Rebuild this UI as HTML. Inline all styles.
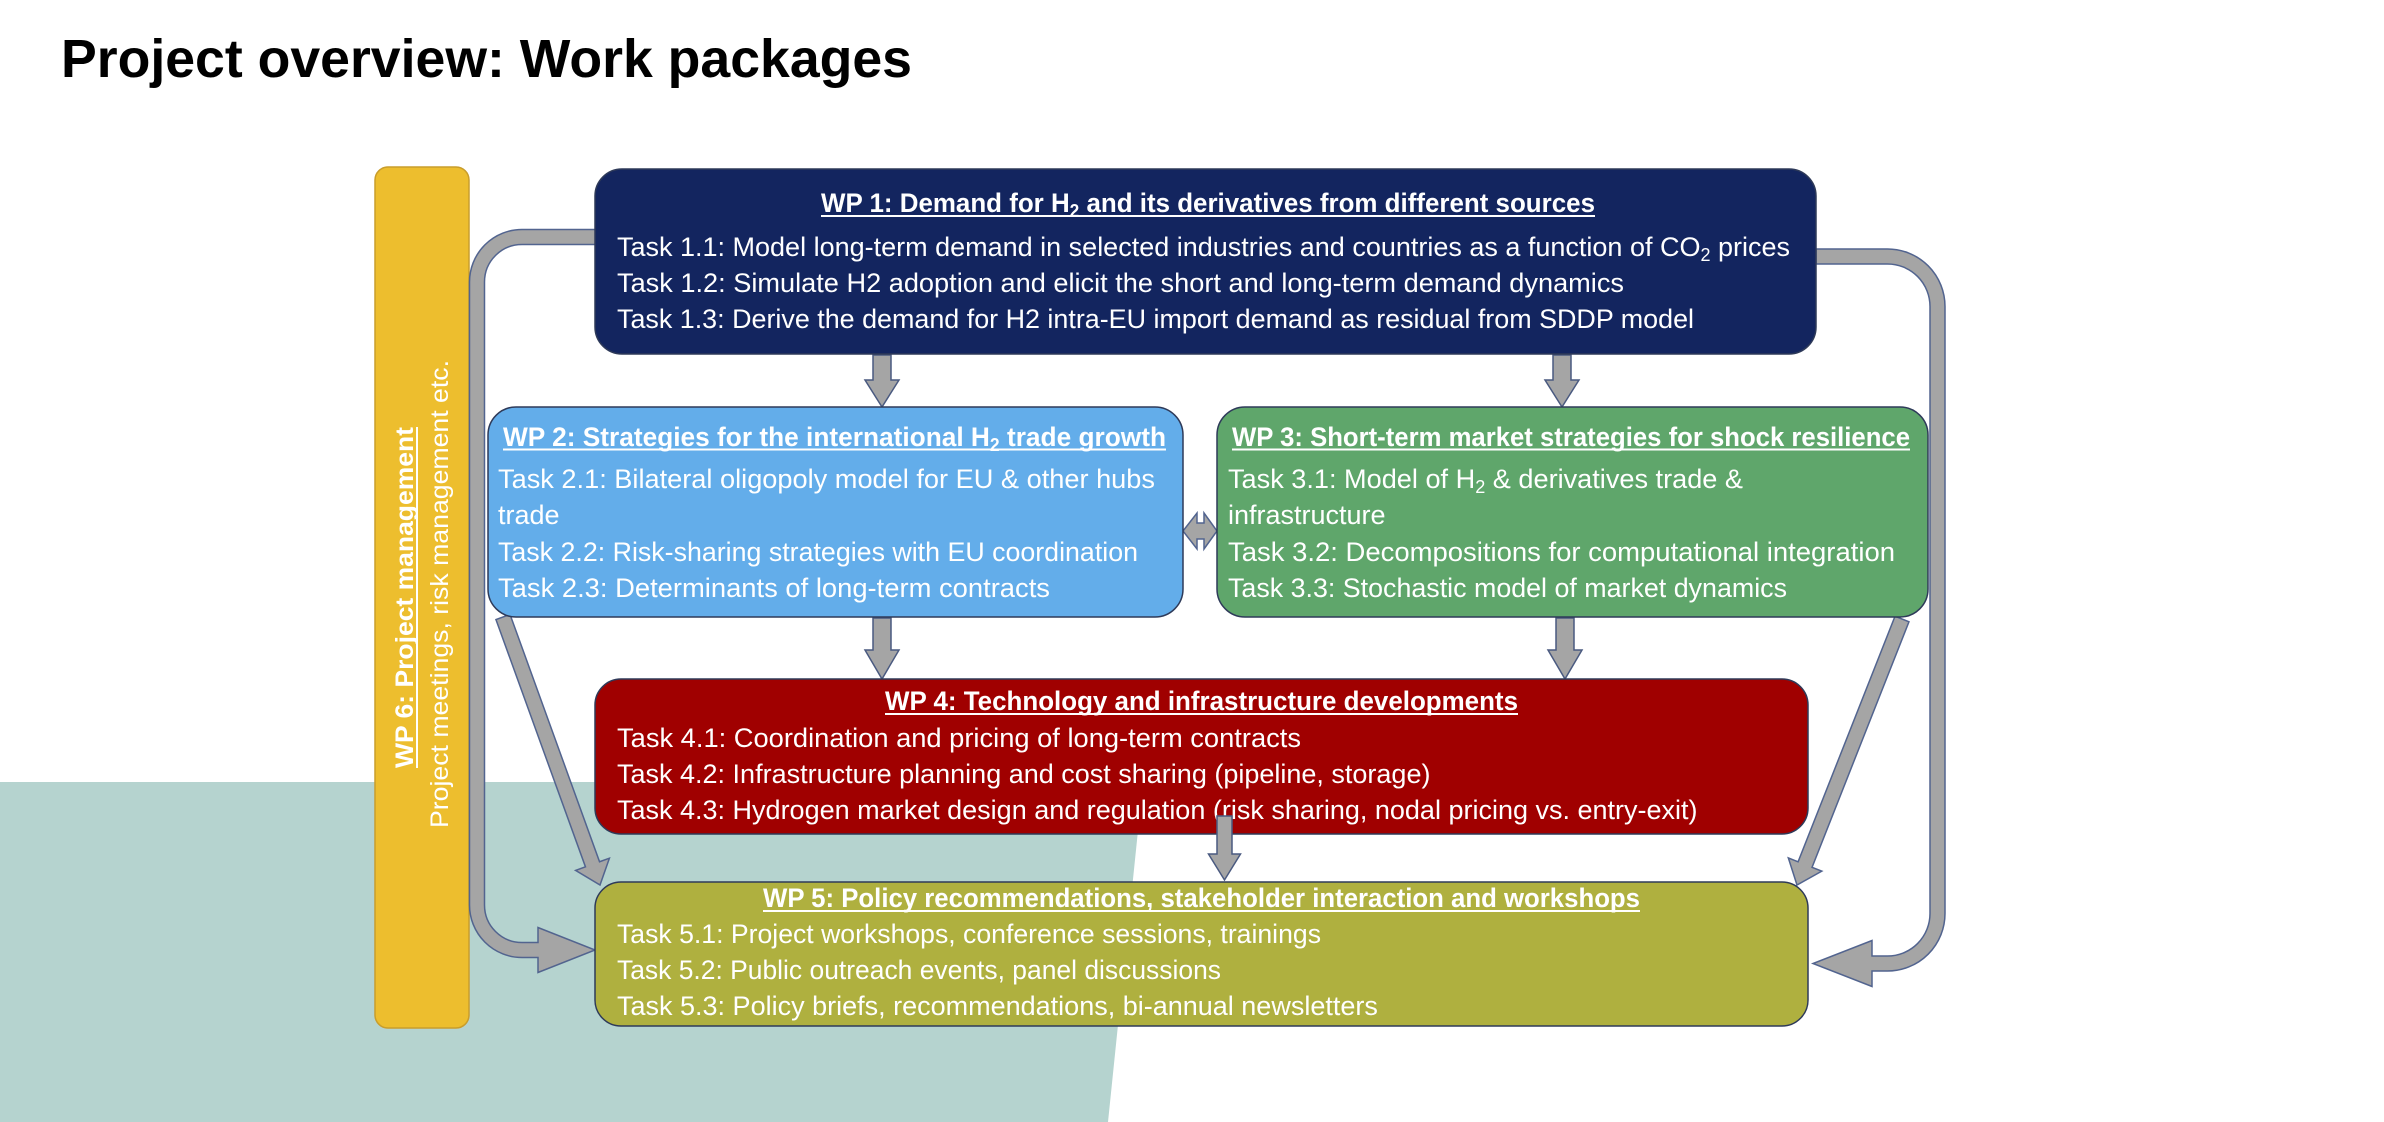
<!DOCTYPE html>
<html>
<head>
<meta charset="utf-8">
<style>
html,body{margin:0;padding:0;background:#fff;width:2384px;height:1122px;overflow:hidden}
svg{display:block}
text{font-family:"Liberation Sans",Arial,sans-serif;fill:#fff;font-size:27px}
.b{font-weight:bold}
.sub{font-size:18px}
</style>
</head>
<body>
<svg width="2384" height="1122" viewBox="0 0 2384 1122" xmlns="http://www.w3.org/2000/svg">
  <rect x="0" y="0" width="2384" height="1122" fill="#fff"/>
  <!-- teal background shape -->
  <polygon points="0,782 1143,782 1108,1122 0,1122" fill="#b5d3cf"/>

  <!-- Title -->
  <text x="61" y="77" class="b" style="fill:#000;font-size:54px" textLength="851" lengthAdjust="spacingAndGlyphs">Project overview: Work packages</text>

  <!-- Yellow WP6 bar -->
  <rect x="375" y="167" width="94" height="861" rx="13" ry="13" fill="#edbe2e" stroke="#c99d2b" stroke-width="1.5"/>
  <text transform="translate(413,768) rotate(-90)" class="b" style="font-size:25px" textLength="341" lengthAdjust="spacingAndGlyphs">WP 6: Project management</text>
  <rect x="416" y="427" width="2" height="341" fill="#fff"/>
  <text transform="translate(448,828) rotate(-90)" style="font-size:25px" textLength="468" lengthAdjust="spacingAndGlyphs">Project meetings, risk management etc.</text>

  <!-- Left curved connector WP1 -> WP5 -->
  <path d="M596,229.5 L522,229.5 A52.5,52.5 0 0 0 469.5,282 L469.5,905 A52.5,52.5 0 0 0 522,957.5 L538,957.5 L538,972.5 L595,950 L538,927.5 L538,942.5 L522,942.5 A37.5,37.5 0 0 1 484.5,905 L484.5,282 A37.5,37.5 0 0 1 522,244.5 L596,244.5 Z" fill="#a5a5a5" stroke="#52648f" stroke-width="1.5"/>

  <!-- Right curved connector WP1 -> WP5 -->
  <path d="M1816,249 L1887.5,249 A57.5,57.5 0 0 1 1945,306.5 L1945,913.5 A57.5,57.5 0 0 1 1887.5,971 L1872,971 L1872,986.5 L1813,963.5 L1872,940.5 L1872,956 L1887.5,956 A42.5,42.5 0 0 0 1930,913.5 L1930,306.5 A42.5,42.5 0 0 0 1887.5,264 L1816,264 Z" fill="#a5a5a5" stroke="#52648f" stroke-width="1.5"/>

  <!-- Diagonal arrows -->
  <polygon points="510.05,614.45 599.55,861.75 609.4,858.2 600,885 575.6,870.4 585.45,866.85 495.95,619.55" fill="#a5a5a5" stroke="#52648f" stroke-width="1.5"/>
  <polygon points="1908.98,621.75 1812.05,867.29 1821.81,871.15 1797,885 1788.33,857.93 1798.09,861.79 1895.02,616.25" fill="#a5a5a5" stroke="#52648f" stroke-width="1.5"/>

  <!-- Down arrows -->
  <polygon points="873,355 891,355 891,380 899,380 882,407 865,380 873,380" fill="#a5a5a5" stroke="#4a5a80" stroke-width="1.5"/>
  <polygon points="1553,355 1571,355 1571,380 1579,380 1562,407 1545,380 1553,380" fill="#a5a5a5" stroke="#4a5a80" stroke-width="1.5"/>
  <polygon points="873,618 891,618 891,650 899,650 882,679 865,650 873,650" fill="#a5a5a5" stroke="#4a5a80" stroke-width="1.5"/>
  <polygon points="1556,618 1574,618 1574,650 1582,650 1565,679 1548,650 1556,650" fill="#a5a5a5" stroke="#4a5a80" stroke-width="1.5"/>

  <!-- Double arrow WP2 <-> WP3 -->
  <polygon points="1183,531 1197,513 1197,523 1204,523 1204,513 1217,531 1204,549 1204,539 1197,539 1197,549" fill="#a5a5a5" stroke="#52648f" stroke-width="1.5"/>

  <!-- WP1 -->
  <rect x="595" y="169" width="1221" height="185" rx="27" ry="27" fill="#13255f" stroke="#2e3a59" stroke-width="1.5"/>
  <text x="821" y="212" class="b" textLength="774" lengthAdjust="spacingAndGlyphs">WP 1: Demand for H<tspan class="sub" dy="5">2</tspan><tspan dy="-5"> and its derivatives from different sources</tspan></text>
  <rect x="821" y="215" width="774" height="2" fill="#fff"/>
  <text x="617" y="256" textLength="1173" lengthAdjust="spacingAndGlyphs">Task 1.1: Model long-term demand in selected industries and countries as a function of CO<tspan class="sub" dy="5">2</tspan><tspan dy="-5"> prices</tspan></text>
  <text x="617" y="292" textLength="1007" lengthAdjust="spacingAndGlyphs">Task 1.2: Simulate H2 adoption and elicit the short and long-term demand dynamics</text>
  <text x="617" y="328" textLength="1077" lengthAdjust="spacingAndGlyphs">Task 1.3: Derive the demand for H2 intra-EU import demand as residual from SDDP model</text>

  <!-- WP2 -->
  <rect x="488" y="407" width="695" height="210" rx="28" ry="28" fill="#63adea" stroke="#2e3a59" stroke-width="1.5"/>
  <text x="503" y="446" class="b" textLength="663" lengthAdjust="spacingAndGlyphs">WP 2: Strategies for the international H<tspan class="sub" dy="5">2</tspan><tspan dy="-5"> trade growth</tspan></text>
  <rect x="503" y="448.5" width="663" height="2" fill="#fff"/>
  <text x="498" y="488" textLength="657" lengthAdjust="spacingAndGlyphs">Task 2.1: Bilateral oligopoly model for EU &amp; other hubs</text>
  <text x="498" y="524">trade</text>
  <text x="498" y="561" textLength="640" lengthAdjust="spacingAndGlyphs">Task 2.2: Risk-sharing strategies with EU coordination</text>
  <text x="498" y="597" textLength="552" lengthAdjust="spacingAndGlyphs">Task 2.3: Determinants of long-term contracts</text>

  <!-- WP3 -->
  <rect x="1217" y="407" width="711" height="210" rx="28" ry="28" fill="#5fa66b" stroke="#2e3a59" stroke-width="1.5"/>
  <text x="1232" y="446" class="b" textLength="678" lengthAdjust="spacingAndGlyphs">WP 3: Short-term market strategies for shock resilience</text>
  <rect x="1232" y="448.5" width="678" height="2" fill="#fff"/>
  <text x="1228" y="488" textLength="515" lengthAdjust="spacingAndGlyphs">Task 3.1: Model of H<tspan class="sub" dy="5">2</tspan><tspan dy="-5"> &amp; derivatives trade &amp;</tspan></text>
  <text x="1228" y="524">infrastructure</text>
  <text x="1228" y="561" textLength="667" lengthAdjust="spacingAndGlyphs">Task 3.2: Decompositions for computational integration</text>
  <text x="1228" y="597" textLength="559" lengthAdjust="spacingAndGlyphs">Task 3.3: Stochastic model of market dynamics</text>

  <!-- WP4 -->
  <rect x="595" y="679" width="1213" height="155" rx="26" ry="26" fill="#a00000" stroke="#2e3a59" stroke-width="1.5"/>
  <text x="885" y="710" class="b" textLength="633" lengthAdjust="spacingAndGlyphs">WP 4: Technology and infrastructure developments</text>
  <rect x="885" y="713" width="633" height="2" fill="#fff"/>
  <text x="617" y="747" textLength="684" lengthAdjust="spacingAndGlyphs">Task 4.1: Coordination and pricing of long-term contracts</text>
  <text x="617" y="783">Task 4.2: Infrastructure planning and cost sharing (pipeline, storage)</text>
  <text x="617" y="819">Task 4.3: Hydrogen market design and regulation (risk sharing, nodal pricing vs. entry-exit)</text>

  <!-- WP5 -->
  <rect x="595" y="882" width="1213" height="144" rx="26" ry="26" fill="#afb03f" stroke="#2e3a59" stroke-width="1.5"/>
  <text x="763" y="907" class="b" textLength="877" lengthAdjust="spacingAndGlyphs">WP 5: Policy recommendations, stakeholder interaction and workshops</text>
  <rect x="763" y="910" width="877" height="2" fill="#fff"/>
  <text x="617" y="943" textLength="704" lengthAdjust="spacingAndGlyphs">Task 5.1: Project workshops, conference sessions, trainings</text>
  <text x="617" y="979" textLength="604" lengthAdjust="spacingAndGlyphs">Task 5.2: Public outreach events, panel discussions</text>
  <text x="617" y="1015">Task 5.3: Policy briefs, recommendations, bi-annual newsletters</text>

  <!-- WP4 -> WP5 arrow (over WP4) -->
  <polygon points="1217,816 1232,816 1232,854 1240.5,854 1224.5,880 1208.5,854 1217,854" fill="#a5a5a5" stroke="#4a5a80" stroke-width="1.5"/>
</svg>
</body>
</html>
